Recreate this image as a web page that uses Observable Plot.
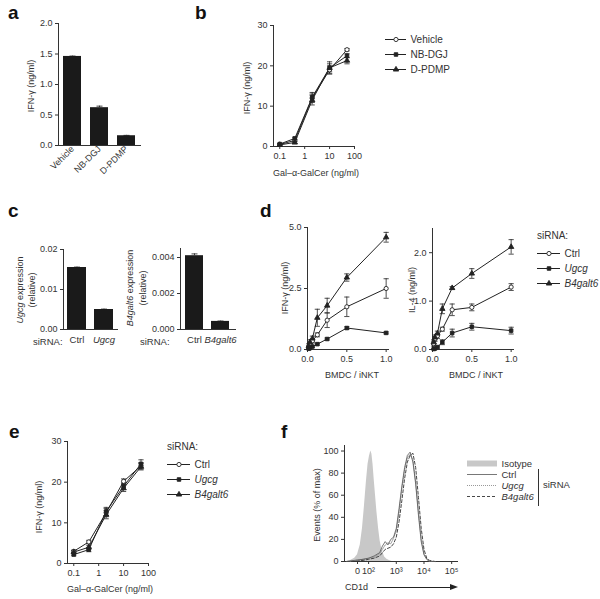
<!DOCTYPE html>
<html><head><meta charset="utf-8">
<script src="https://cdn.jsdelivr.net/npm/d3@7"></script>
<script src="https://cdn.jsdelivr.net/npm/@observablehq/plot@0.6"></script>
<style>
body{margin:0;background:#fff;}
#fig{position:relative;width:600px;height:599px;overflow:hidden;font-family:"Liberation Sans",Arial,Helvetica,sans-serif;color:#333;background:#fff;}
.t{position:absolute;white-space:nowrap;line-height:1;}
svg{overflow:visible}
</style></head><body><div id="fig"></div>
<script>
// ---------- data ----------
// a
const aCats = ["Vehicle", "NB-DGJ", "D-PDMP"];
const aVals = [1.46, 0.62, 0.16];
const aErr  = [0.006, 0.025, 0.006];
// b
const doses = [0.1, 0.4, 2, 10, 50];
const bVehicle = [0.5, 1.5, 12.0, 19.0, 24.0];
const bVehicleErr = [0.2, 0.3, 1.0, 1.0, 0.3];
const bNBDGJ = [0.6, 2.0, 12.2, 19.5, 22.5];
const bNBDGJErr = [0.2, 0.3, 1.2, 1.5, 0.5];
const bDPDMP = [0.4, 1.0, 11.5, 19.5, 21.3];
const bDPDMPErr = [0.2, 0.3, 1.2, 1.0, 0.8];
const logTicks = [0.1, 1, 10, 100];
// c
const cLeftCats = ["Ctrl", "Ugcg"];
const cLeftVals = [0.0155, 0.0050];
const cLeftErr = [0.0001, 0.0001];
const cRightCats = ["Ctrl", "B4galt6"];
const cRightVals = [0.0041, 0.00045];
const cRightErr = [0.0001, 0.00002];
// d
const ratios = [0.0156, 0.03125, 0.0625, 0.125, 0.25, 0.5, 1];
const dIfnCtrl = [0.10, 0.20, 0.35, 0.60, 1.20, 1.75, 2.50];
const dIfnCtrlErr = [0.05, 0.05, 0.08, 0.08, 0.30, 0.40, 0.40];
const dIfnUgcg = [0.03, 0.06, 0.12, 0.22, 0.43, 0.88, 0.68];
const dIfnUgcgErr = [0.02, 0.02, 0.03, 0.04, 0.04, 0.05, 0.04];
const dIfnB4 = [0.15, 0.30, 0.45, 1.30, 1.80, 2.95, 4.60];
const dIfnB4Err = [0.08, 0.10, 0.10, 0.35, 0.30, 0.15, 0.20];
const dIl4Ctrl = [0.12, 0.22, 0.28, 0.42, 0.82, 0.87, 1.29];
const dIl4CtrlErr = [0.05, 0.05, 0.05, 0.04, 0.12, 0.07, 0.07];
const dIl4Ugcg = [0.01, 0.02, 0.05, 0.15, 0.34, 0.47, 0.39];
const dIl4UgcgErr = [0.01, 0.01, 0.02, 0.05, 0.08, 0.07, 0.07];
const dIl4B4 = [0.15, 0.25, 0.33, 0.84, 1.27, 1.57, 2.12];
const dIl4B4Err = [0.05, 0.05, 0.05, 0.10, 0.03, 0.10, 0.15];
// e
const eCtrl = [3.0, 5.3, 12.5, 20.2, 24.0];
const eCtrlErr = [0.3, 0.4, 1.0, 0.6, 0.8];
const eUgcg = [2.2, 3.4, 12.8, 19.0, 24.5];
const eUgcgErr = [0.3, 0.5, 1.0, 0.8, 1.0];
const eB4 = [2.8, 4.0, 12.0, 18.5, 23.8];
const eB4Err = [0.4, 0.5, 1.0, 0.8, 0.8];
// f (x in display decades of CD1d fluorescence)
const fTicks = [1.6, 2, 3, 4, 5];
const fTickLabels = ["0", "10²", "10³", "10⁴", "10⁵"];
const isoU = [1.20,1.35,1.50,1.60,1.70,1.78,1.85,1.92,1.98,2.03,2.08,2.12,2.16,2.20,2.25,2.30,2.36,2.42,2.50,2.58,2.66,2.75,2.85];
const isoY = [0,1,3,6,15,30,50,72,88,95,100,97,88,75,60,45,30,18,9,4,2,1,0];
const fU = [1.2,1.5,1.8,2.0,2.2,2.4,2.5,2.6,2.7,2.8,2.9,3.0,3.1,3.2,3.3,3.4,3.5,3.6,3.7,3.8,3.9,4.0,4.1,4.2,4.4];
const fCtrl = [0,1,2,3,5,8,14,18,15,20,22,30,48,68,85,96,99,90,70,42,18,6,2,0,0];
const fUgcg = [0,1,2,3,4,7,11,15,17,16,21,28,45,66,83,94,97,92,72,45,20,7,2,0,0];
const fB4 = [0,0,1,2,3,5,8,11,12,13,16,22,36,55,75,90,96,98,85,58,30,11,3,1,0];

// ---------- helpers ----------
const F = '"Liberation Sans", Arial, Helvetica, sans-serif';
const INK = "#222";
const baseStyle = {fontFamily: F, fontSize: "9px", color: "#333", background: "transparent", overflow: "visible"};
const fig = document.getElementById("fig");
function put(el, left, top) { el.style.position = "absolute"; el.style.left = left + "px"; el.style.top = top + "px"; fig.appendChild(el); return el; }
function txt(s, x, y, o = {}) {
  const {anchor = "middle", rotate = 0, size = 9, weight = "normal", color = "#333"} = o;
  const d = document.createElement("div");
  d.className = "t"; d.innerHTML = s;
  d.style.fontSize = size + "px"; d.style.fontWeight = weight; d.style.color = color;
  d.style.left = x + "px"; d.style.top = y + "px";
  const tx = anchor === "middle" ? "-50%" : anchor === "end" ? "-100%" : "0";
  d.style.transform = `translate(${tx},-50%)` + (rotate ? ` rotate(${rotate}deg)` : "");
  fig.appendChild(d); return d;
}
const cap = {draw(ctx, size) { const w = Math.sqrt(size / Math.PI); ctx.moveTo(-w, 0); ctx.lineTo(w, 0); }};
const ax = {label: null, line: true, tickSize: 3, tickPadding: 3};

function barPanel({left, top, width, height, ml, mr, mt, mb, cats, vals, errs, pi, po, y, italic = [], rotate}) {
  const data = cats.map((c, i) => ({c, v: vals[i], e: errs[i]}));
  const marks = [
    Plot.barY(data, {x: "c", y: "v", fill: "#1a1a1a"}),
    Plot.ruleX(data, {x: "c", y1: "v", y2: d => d.v + d.e, stroke: "#1a1a1a", strokeWidth: 0.8}),
    Plot.dot(data, {x: "c", y: d => d.v + d.e, symbol: cap, r: 3, stroke: "#1a1a1a", fill: "none", strokeWidth: 0.8})
  ];
  let xo;
  if (rotate) {
    xo = {...ax, domain: cats, paddingInner: pi, paddingOuter: po, tickSize: 0, tickRotate: rotate, tickPadding: 2};
  } else {
    xo = {...ax, domain: cats, paddingInner: pi, paddingOuter: po, tickSize: 0, tickFormat: () => ""};
    marks.push(Plot.text(cats.filter(c => !italic.includes(c)), {x: d => d, text: d => d, frameAnchor: "bottom", dy: 13, fontSize: 9.5}));
    marks.push(Plot.text(cats.filter(c => italic.includes(c)), {x: d => d, text: d => d, frameAnchor: "bottom", dy: 13, fontSize: 9.5, fontStyle: "italic"}));
  }
  put(Plot.plot({width, height, marginLeft: ml, marginRight: mr, marginTop: mt, marginBottom: mb, style: baseStyle,
    x: xo, y: {...ax, ...y}, marks}), left, top);
}

function xyPanel({left, top, width, height, ml, mr, mt, mb, x, y, xs, series}) {
  const rows = series.flatMap(s => xs.map((xv, i) => ({s: s.name, x: xv, y: s.vals[i], e: s.errs ? s.errs[i] : 0})));
  const eb = rows.filter(d => d.e > 0);
  const marks = [
    Plot.ruleX(eb, {x: "x", y1: d => Math.max(0, d.y - d.e), y2: d => d.y + d.e, stroke: INK, strokeWidth: 0.8}),
    Plot.dot(eb, {x: "x", y: d => d.y + d.e, symbol: cap, r: 2.6, stroke: INK, fill: "none", strokeWidth: 0.8}),
    Plot.dot(eb, {x: "x", y: d => Math.max(0, d.y - d.e), symbol: cap, r: 2.6, stroke: INK, fill: "none", strokeWidth: 0.8}),
    Plot.line(rows, {x: "x", y: "y", z: "s", stroke: INK, strokeWidth: 1}),
    ...series.map(s => Plot.dot(rows.filter(d => d.s === s.name), {x: "x", y: "y", symbol: s.symbol, r: s.r, fill: s.fill, stroke: INK, strokeWidth: 0.9}))
  ];
  put(Plot.plot({width, height, marginLeft: ml, marginRight: mr, marginTop: mt, marginBottom: mb, style: baseStyle,
    x: {...ax, ...x}, y: {...ax, ...y}, marks}), left, top);
}

function legend({left, top, lineW, width, gap, items, fontSize = 10}) {
  const names = items.map(d => d.name);
  const h = gap * (items.length - 1) + 12;
  const marks = [];
  items.forEach(it => {
    marks.push(Plot.ruleY([it.name], {x1: () => 0, x2: () => 1, y: d => d, stroke: it.stroke || INK, strokeWidth: it.sw || 1, strokeDasharray: it.dash}));
    if (it.symbol) marks.push(Plot.dot([it.name], {x: () => 0.5, y: d => d, symbol: it.symbol, r: it.r || 2.2, fill: it.fill, stroke: INK, strokeWidth: 0.9}));
    marks.push(Plot.text([it.name], {x: () => 1, y: d => d, text: d => d, textAnchor: "start", dx: 4, fontSize, fontStyle: it.italic ? "italic" : "normal"}));
  });
  put(Plot.plot({width, height: h, marginLeft: 0, marginRight: width - lineW, marginTop: 6, marginBottom: 6, style: baseStyle,
    x: {domain: [0, 1], axis: null}, y: {type: "point", domain: names, padding: 0, axis: null}, marks}), left, top - 6);
}

// ---------- panel letters ----------
[["a", 8, 12], ["b", 195, 12], ["c", 8, 210], ["d", 260, 210], ["e", 9, 431], ["f", 281, 431]]
  .forEach(([s, x, y]) => txt(s, x, y, {anchor: "start", size: 19, weight: "bold", color: "#111"}));

// ---------- a ----------
barPanel({left: 0, top: 0, width: 150, height: 180, ml: 58, mr: 10, mt: 23, mb: 35,
  cats: aCats, vals: aVals, errs: aErr, pi: 0.333, po: 0.185, rotate: -45,
  y: {domain: [0, 2], ticks: [0, 0.5, 1, 1.5, 2], tickFormat: ".1f"}});
txt("IFN-γ (ng/ml)", 31, 86, {rotate: -90});

// ---------- b ----------
const symCirc = {symbol: "circle", fill: "white", r: 2.1};
const symSq = {symbol: "square", fill: INK, r: 2.0};
const symTri = {symbol: "triangle", fill: INK, r: 2.0};
const logX = {type: "log", domain: [0.056, 100], ticks: logTicks, tickFormat: d => String(d)};
xyPanel({left: 220, top: 0, width: 200, height: 185, ml: 53, mr: 66, mt: 25, mb: 39,
  x: logX, y: {domain: [0, 30], ticks: [0, 10, 20, 30]}, xs: doses,
  series: [{name: "Vehicle", vals: bVehicle, errs: bVehicleErr, ...symCirc},
           {name: "NB-DGJ", vals: bNBDGJ, errs: bNBDGJErr, ...symSq},
           {name: "D-PDMP", vals: bDPDMP, errs: bDPDMPErr, ...symTri}]});
txt("IFN-γ (ng/ml)", 247, 88, {rotate: -90});
txt("Gal–α-GalCer (ng/ml)", 316, 173);
legend({left: 385, top: 39, lineW: 21, width: 90, gap: 15,
  items: [{name: "Vehicle", ...symCirc}, {name: "NB-DGJ", ...symSq}, {name: "D-PDMP", ...symTri}]});

// ---------- c ----------
barPanel({left: 0, top: 235, width: 130, height: 115, ml: 63, mr: 13, mt: 14, mb: 21,
  cats: cLeftCats, vals: cLeftVals, errs: cLeftErr, pi: 0.3, po: 0.15, italic: ["Ugcg"],
  y: {domain: [0, 0.02], ticks: [0, 0.01, 0.02], tickFormat: ".2f"}});
barPanel({left: 130, top: 235, width: 115, height: 115, ml: 50, mr: 10, mt: 13, mb: 21,
  cats: cRightCats, vals: cRightVals, errs: cRightErr, pi: 0.3, po: 0.17, italic: ["B4galt6"],
  y: {domain: [0, 0.0045], ticks: [0, 0.002, 0.004], tickFormat: ".3f"}});
txt("<i>Ugcg</i> expression", 20, 290, {rotate: -90});
txt("(relative)", 32, 290, {rotate: -90});
txt("<i>B4galt6</i> expression", 130, 288, {rotate: -90});
txt("(relative)", 143, 288, {rotate: -90});
txt("siRNA:", 33, 342, {anchor: "start", size: 9.5});
txt("siRNA:", 140, 342, {anchor: "start", size: 9.5});

// ---------- d ----------
const siItems = [{name: "Ctrl", ...symCirc}, {name: "Ugcg", ...symSq, italic: true}, {name: "B4galt6", ...symTri, italic: true}];
const linX = {domain: [0, 1.03], ticks: [0, 0.5, 1], tickFormat: ".1f"};
xyPanel({left: 260, top: 215, width: 140, height: 170, ml: 47, mr: 12, mt: 12, mb: 36,
  x: linX, y: {domain: [0, 5], ticks: [0, 2.5, 5], tickFormat: ".1f"}, xs: ratios,
  series: [{name: "Ctrl", vals: dIfnCtrl, errs: dIfnCtrlErr, ...symCirc},
           {name: "Ugcg", vals: dIfnUgcg, errs: dIfnUgcgErr, ...symSq},
           {name: "B4galt6", vals: dIfnB4, errs: dIfnB4Err, ...symTri}]});
xyPanel({left: 390, top: 215, width: 140, height: 170, ml: 42, mr: 17, mt: 13, mb: 36,
  x: linX, y: {domain: [0, 2.5], ticks: [0, 1, 2]}, xs: ratios,
  series: [{name: "Ctrl", vals: dIl4Ctrl, errs: dIl4CtrlErr, ...symCirc},
           {name: "Ugcg", vals: dIl4Ugcg, errs: dIl4UgcgErr, ...symSq},
           {name: "B4galt6", vals: dIl4B4, errs: dIl4B4Err, ...symTri}]});
txt("IFN-γ (ng/ml)", 285, 288, {rotate: -90});
txt("IL-4 (ng/ml)", 412, 290, {rotate: -90});
txt("BMDC / iNKT", 352, 375);
txt("BMDC / iNKT", 476, 375);
txt("siRNA:", 537, 236, {anchor: "start", size: 10});
legend({left: 537, top: 253, lineW: 23, width: 90, gap: 15, items: siItems});

// ---------- e ----------
xyPanel({left: 20, top: 430, width: 140, height: 169, ml: 47, mr: 12, mt: 11, mb: 36,
  x: logX, y: {domain: [0, 30], ticks: [0, 10, 20, 30]}, xs: doses,
  series: [{name: "Ctrl", vals: eCtrl, errs: eCtrlErr, ...symCirc},
           {name: "Ugcg", vals: eUgcg, errs: eUgcgErr, ...symSq},
           {name: "B4galt6", vals: eB4, errs: eB4Err, ...symTri}]});
txt("IFN-γ (ng/ml)", 39, 507, {rotate: -90});
txt("Gal–α-GalCer (ng/ml)", 110, 589);
txt("siRNA:", 167, 447, {anchor: "start", size: 10});
legend({left: 167, top: 463, lineW: 23, width: 90, gap: 15.5, items: siItems});

// ---------- f ----------
const isoRows = isoU.map((u, i) => ({u, v: isoY[i]}));
const fRows = (vals) => fU.map((u, i) => ({u, v: vals[i]}));
put(Plot.plot({width: 170, height: 159, marginLeft: 44, marginRight: 13, marginTop: 5, marginBottom: 38, style: baseStyle,
  x: {...ax, domain: [1.13, 5.21], ticks: fTicks, tickFormat: d => fTickLabels[fTicks.indexOf(d)]},
  y: {...ax, domain: [0, 105], ticks: [0, 20, 40, 60, 80, 100]},
  marks: [
    Plot.areaY(isoRows, {x: "u", y: "v", fill: "#c8c8c8"}),
    Plot.line(fRows(fUgcg), {x: "u", y: "v", stroke: "#999", strokeWidth: 1, strokeDasharray: "1,1"}),
    Plot.line(fRows(fB4), {x: "u", y: "v", stroke: "#333", strokeWidth: 0.9, strokeDasharray: "3,2"}),
    Plot.line(fRows(fCtrl), {x: "u", y: "v", stroke: "#555", strokeWidth: 0.8})
  ]}), 300, 440);
txt("Events (% of max)", 317, 505, {rotate: -90});
txt("CD1d", 345, 587, {anchor: "start"});
const arr = document.createElement("div");
arr.style.cssText = "position:absolute;left:377px;top:587px;width:74px;border-top:1px solid #222;";
fig.appendChild(arr);
const head = document.createElement("div");
head.style.cssText = "position:absolute;left:450px;top:584px;width:0;height:0;border-top:3.5px solid transparent;border-bottom:3.5px solid transparent;border-left:8px solid #222;";
fig.appendChild(head);
legend({left: 467, top: 463, lineW: 30, width: 100, gap: 11, fontSize: 9.5,
  items: [{name: "Isotype", stroke: "#c8c8c8", sw: 6},
          {name: "Ctrl", stroke: "#555", sw: 0.8},
          {name: "Ugcg", stroke: "#999", sw: 1, dash: "1,1", italic: true},
          {name: "B4galt6", stroke: "#333", sw: 0.9, dash: "3,2", italic: true}]});
const bar = document.createElement("div");
bar.style.cssText = "position:absolute;left:538px;top:469px;height:37px;border-left:1px solid #333;";
fig.appendChild(bar);
txt("siRNA", 543, 485, {anchor: "start", size: 9.5});
</script></body></html>
